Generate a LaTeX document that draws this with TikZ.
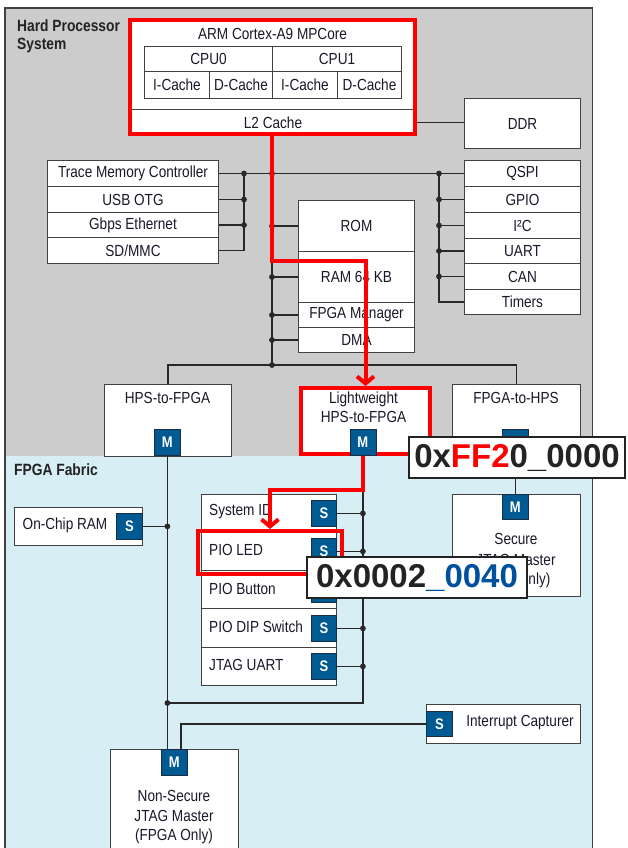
\documentclass[tikz,border=0pt]{standalone}
\usepackage{fontspec}
\setmainfont{Liberation Sans}
\usetikzlibrary{arrows.meta}
\definecolor{hpsgrey}{RGB}{204,204,204}
\definecolor{fpgablue}{RGB}{215,238,245}
\definecolor{msblue}{RGB}{0,90,146}
\definecolor{msedge}{RGB}{25,45,70}
\definecolor{lnc}{RGB}{40,40,40}
\definecolor{bdc}{RGB}{65,65,65}
\definecolor{txc}{RGB}{25,25,40}
\definecolor{hlred}{RGB}{255,0,0}
\definecolor{addrblue}{RGB}{0,80,160}
\definecolor{addrdark}{RGB}{35,35,35}
\newcommand\tx[1]{\scalebox{1}[1.18]{#1}}
\tikzset{
  wbox/.style={draw=bdc, line width=1pt, fill=white, inner sep=0pt, anchor=north west, text=txc, font=\fontsize{13.6}{15}\selectfont},
  ms/.style={draw=msedge, line width=0.8pt, fill=msblue, inner sep=0pt, anchor=north west, text=white, font=\bfseries\fontsize{13}{15}\selectfont},
  txt/.style={inner sep=0pt, text=txc, font=\fontsize{13.6}{15}\selectfont},
  btxt/.style={inner sep=0pt, text=addrdark, font=\bfseries\fontsize{13.8}{16}\selectfont},
  conn/.style={draw=lnc, line width=1.2pt},
  hl/.style={draw=hlred, line width=4pt, line join=miter},
  hlarrow/.style={hl, -{Straight Barb[length=7pt,width=17pt]}},
  addr/.style={draw=addrdark, line width=2pt, fill=white, inner sep=0pt, anchor=north west, text=addrdark, font=\bfseries\fontsize{33}{36}\selectfont},
  dot/.style={fill=lnc},
}
\begin{document}
\begin{tikzpicture}[x=1pt,y=-1pt]
\useasboundingbox (0,0) rectangle (627,848);
\clip (0,0) rectangle (627,848);
\fill[white] (0,0) rectangle (627,848);
% regions
\node[draw=none, fill=hpsgrey, inner sep=0pt, anchor=north west, minimum width=587pt, minimum height=448pt] (hps) at (5,8) {};
\node[draw=none, fill=fpgablue, inner sep=0pt, anchor=north west, minimum width=587pt, minimum height=400pt] (fpga) at (5,456) {};
\draw[draw=bdc, line width=1.2pt] (fpga.south west) -- (hps.north west) -- (hps.north east) -- (fpga.south east);
\node[btxt, anchor=base west] (hpst1) at (17,32) {\tx{Hard Processor}};
\node[btxt, anchor=base west] (hpst2) at (17,50) {\tx{System}};
\node[btxt, anchor=west] (fpgat) at (14,470) {\tx{FPGA Fabric}};

% ARM core
\node[fill=white, inner sep=0pt, anchor=north west, minimum width=285pt, minimum height=114pt] (arm) at (130,20) {};
\node[txt] (armt) at (272.5,34) {\tx{ARM Cortex-A9 MPCore}};
\node[wbox, minimum width=128pt, minimum height=25pt] (cpu0) at (144,46) {\tx{CPU0}};
\node[wbox, minimum width=129pt, minimum height=25pt] (cpu1) at (272,46) {\tx{CPU1}};
\node[wbox, minimum width=65pt, minimum height=27pt] (ic0) at (144,71) {\tx{I-Cache}};
\node[wbox, minimum width=63pt, minimum height=27pt] (dc0) at (209,71) {\tx{D-Cache}};
\node[wbox, minimum width=65pt, minimum height=27pt] (ic1) at (272,71) {\tx{I-Cache}};
\node[wbox, minimum width=64pt, minimum height=27pt] (dc1) at (337,71) {\tx{D-Cache}};
\node[wbox, draw=none, minimum width=285pt, minimum height=24pt] (l2) at (130,110) {\tx{L2 Cache}};
\draw[draw=bdc, line width=1pt] (l2.north west) -- (l2.north east);
\node[wbox, minimum width=116pt, minimum height=50pt] (ddr) at (464,98) {\tx{DDR}};

% left peripherals
\node[wbox, minimum width=171pt, minimum height=26pt] (trace) at (47,160) {\tx{Trace Memory Controller}};
\node[wbox, minimum width=171pt, minimum height=26pt] (usb) at (47,186) {\tx{USB OTG}};
\node[wbox, minimum width=171pt, minimum height=25pt] (eth) at (47,212) {\tx{Gbps Ethernet}};
\node[wbox, minimum width=171pt, minimum height=26pt] (sd) at (47,237) {\tx{SD/MMC}};
% right peripherals
\node[wbox, minimum width=116pt, minimum height=26pt] (qspi) at (464,160) {\tx{QSPI}};
\node[wbox, minimum width=116pt, minimum height=26pt] (gpio) at (464,186) {\tx{GPIO}};
\node[wbox, minimum width=116pt, minimum height=26pt] (i2c) at (464,212) {\tx{I²C}};
\node[wbox, minimum width=116pt, minimum height=25pt] (uart) at (464,238) {\tx{UART}};
\node[wbox, minimum width=116pt, minimum height=26pt] (can) at (464,263) {\tx{CAN}};
\node[wbox, minimum width=116pt, minimum height=25pt] (timers) at (464,289) {\tx{Timers}};
% memory stack
\node[wbox, minimum width=116pt, minimum height=51pt] (rom) at (298,200) {\tx{ROM}};
\node[wbox, minimum width=116pt, minimum height=51pt] (ram) at (298,251) {\tx{RAM 64 KB}};
\node[wbox, minimum width=116pt, minimum height=25pt] (fpgam) at (298,302) {\tx{FPGA Manager}};
\node[wbox, minimum width=116pt, minimum height=25pt] (dma) at (298,327) {\tx{DMA}};

% bridges
\node[wbox, minimum width=127pt, minimum height=72pt] (h2f) at (104,384) {};
\node[txt] (h2ft) at (167.5,398) {\tx{HPS-to-FPGA}};
\node[wbox, draw=hlred, line width=4pt, minimum width=129pt, minimum height=66pt] (lw) at (299,386) {};
\node[txt] (lwt1) at (363.5,399) {\tx{Lightweight}};
\node[txt] (lwt2) at (363.5,417) {\tx{HPS-to-FPGA}};
\node[wbox, minimum width=128pt, minimum height=72pt] (f2h) at (452,384) {};
\node[txt] (f2ht) at (516,398) {\tx{FPGA-to-HPS}};
\node[ms, minimum width=26pt, minimum height=26pt] (mh2f) at (154,429) {\tx{M}};
\node[ms, minimum width=26pt, minimum height=26pt] (mlw) at (349.5,429) {\tx{M}};
\node[ms, minimum width=26pt, minimum height=26pt] (mf2h) at (502,429) {\tx{M}};

% FPGA components
\node[wbox, minimum width=128pt, minimum height=38pt] (onchip) at (14,507) {};
\node[txt] (onchipt) at (65,525) {\tx{On-Chip RAM}};
\node[ms, minimum width=26pt, minimum height=26pt] (sonchip) at (116,513) {\tx{S}};

\node[wbox, minimum width=135pt, minimum height=38pt] (sysid) at (201,494) {};
\node[wbox, minimum width=135pt, minimum height=38pt] (pioled) at (201,532) {};
\node[wbox, minimum width=135pt, minimum height=38pt] (piobtn) at (201,570) {};
\node[wbox, minimum width=135pt, minimum height=39pt] (piodip) at (201,608) {};
\node[wbox, minimum width=135pt, minimum height=38pt] (jtaguart) at (201,647) {};
\node[txt, anchor=west] (sysidt) at (209,512) {\tx{System ID}};
\node[txt, anchor=west] (pioledt) at (209,550) {\tx{PIO LED}};
\node[txt, anchor=west] (piobtnt) at (209,589) {\tx{PIO Button}};
\node[txt, anchor=west] (piodipt) at (209,627) {\tx{PIO DIP Switch}};
\node[txt, anchor=west] (jtaguartt) at (209,665) {\tx{JTAG UART}};
\node[ms, minimum width=25pt, minimum height=26pt] (ssys) at (311,500) {\tx{S}};
\node[ms, minimum width=25pt, minimum height=26pt] (sled) at (311,538) {\tx{S}};
\node[ms, minimum width=25pt, minimum height=26pt] (sbtn) at (311,576) {\tx{S}};
\node[ms, minimum width=25pt, minimum height=26pt] (sdip) at (311,615) {\tx{S}};
\node[ms, minimum width=25pt, minimum height=26pt] (suart) at (311,653) {\tx{S}};

\node[wbox, minimum width=128pt, minimum height=102pt] (sj) at (452,494) {};
\node[ms, minimum width=26pt, minimum height=25pt] (msj) at (502,494) {\tx{M}};
\node[txt] (sjt1) at (516,539) {\tx{Secure}};
\node[txt] (sjt2) at (516,560) {\tx{JTAG Master}};
\node[txt] (sjt3) at (516,580) {\tx{(HPS Only)}};

\node[wbox, minimum width=154pt, minimum height=39pt] (ic) at (426,704) {};
\node[ms, minimum width=26pt, minimum height=25pt] (sic) at (426,711) {\tx{S}};
\node[txt] (ict) at (520,723) {\tx{Interrupt Capturer}};

\node[wbox, minimum width=128pt, minimum height=120pt] (nsj) at (110,749) {};
\node[ms, minimum width=26pt, minimum height=26pt] (mnsj) at (161,749) {\tx{M}};
\node[txt] (nsjt1) at (174,796) {\tx{Non-Secure}};
\node[txt] (nsjt2) at (174,816) {\tx{JTAG Master}};
\node[txt] (nsjt3) at (174,836) {\tx{(FPGA Only)}};

% bus coordinates
\coordinate (busL) at (244,0);
\coordinate (busR) at (439,0);
\coordinate (busC) at (272,0);
\coordinate (busB) at (0,365);
\coordinate (busF) at (0,703);
\coordinate (nsjtap) at (181,749);
\coordinate (rt1) at (272,261);
\coordinate (rt2) at (270,490);

% HPS connectors
\draw[conn] (l2.east) -- (l2.east -| ddr.west);
\draw[conn] (trace.east) -- (qspi.west);
\draw[conn] (trace.east -| busL) -- (sd.east -| busL) -- (sd.east);
\foreach \n in {usb,eth} \draw[conn] (\n.east) -- (\n.east -| busL);
\foreach \n in {trace,usb,eth} \fill[dot] (\n.east -| busL) circle[radius=2.9pt];
\draw[conn] (qspi.west -| busR) -- (timers.west -| busR) -- (timers.west);
\foreach \n in {gpio,i2c,uart,can} \draw[conn] (\n.west) -- (\n.west -| busR);
\foreach \n in {qspi,gpio,i2c,uart,can} \fill[dot] (\n.west -| busR) circle[radius=2.9pt];
\draw[conn] (trace.east -| busC) -- (busC |- busB);
\foreach \n in {rom,ram,fpgam,dma} {\draw[conn] (\n.west) -- (\n.west -| busC); \fill[dot] (\n.west -| busC) circle[radius=2.9pt];}
\fill[dot] (trace.east -| busC) circle[radius=2.9pt];
\fill[dot] (busC |- busB) circle[radius=2.9pt];
\draw[conn] (h2f.north) -- (h2f.north |- busB) -- (f2h.north |- busB) -- (f2h.north);

% FPGA connectors
\draw[conn] (mh2f.south) -- (mh2f.south |- mnsj.north);
\draw[conn] (sonchip.east) -- (sonchip.east -| mh2f.south);
\fill[dot] (sonchip.east -| mh2f.south) circle[radius=2.9pt];
\draw[conn] (mh2f.south |- busF) -- (mlw.south |- busF) -- (mlw.south);
\fill[dot] (mh2f.south |- busF) circle[radius=2.9pt];
\foreach \n in {ssys,sled,sbtn,sdip,suart} {\draw[conn] (\n.east) -- (\n.east -| mlw.south); \fill[dot] (\n.east -| mlw.south) circle[radius=2.9pt];}
\draw[conn] (mf2h.south) -- (msj.north);
\draw[conn] (nsjtap) |- (sic.west);

% highlights
\draw[hl] (arm.north west) rectangle (arm.south east);
\node[draw=hlred, line width=4pt, inner sep=0pt, anchor=north west, minimum width=144pt, minimum height=43pt] (ledhl) at (196,529) {};
\draw[hlarrow] (arm.south -| rt1) -- (rt1) -| (lw.north);
\draw[hlarrow] (mlw.south) |- (rt2) -- (rt2 |- ledhl.north);

% address labels
\node[addr, minimum width=216pt, minimum height=41pt] (lab1) at (408,436) {0x{\color{hlred}FF2}0\_0000};
\node[addr, minimum width=220pt, minimum height=41pt] (lab2) at (306,556) {0x0002{\color{addrblue}\_0040}};
\end{tikzpicture}
\end{document}
